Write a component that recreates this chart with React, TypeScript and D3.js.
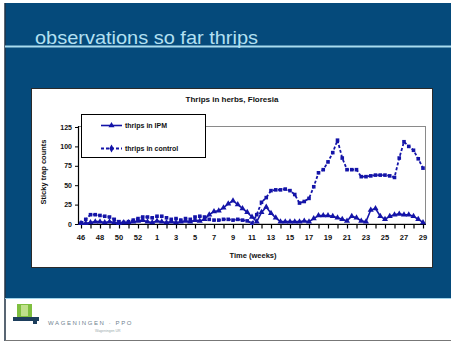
import React from "react";
import * as d3 from "d3";

const weeks = [46, 47, 48, 49, 50, 51, 52, 53, 1, 2, 3, 4, 5, 6, 7, 8, 9, 10, 11, 12, 13, 14, 15, 16, 17, 18, 19, 20, 21, 22, 23, 24, 25, 26, 27, 28, 29];
const yTicks = [0, 25, 50, 75, 100, 125];

// twice-weekly observations (73 samples over the 37 weeks)
const ipm = [1, 1, 2, 3, 3, 2, 3, 2, 1, 2, 2, 3, 4, 5, 3, 2, 4, 3, 2, 3, 2, 3, 4, 3, 5, 4, 6, 12, 16, 17, 21, 26, 30, 25, 20, 15, 9, 3, 15, 22, 14, 8, 3, 3, 3, 3, 3, 4, 3, 7, 11, 11, 11, 10, 8, 6, 4, 10, 8, 4, 3, 18, 20, 10, 6, 10, 12, 13, 12, 12, 10, 6, 2];
const control = [1, 6, 12, 12, 11, 10, 9, 6, 3, 2, 3, 5, 7, 9, 9, 8, 10, 10, 8, 6, 7, 5, 7, 6, 9, 10, 9, 6, 5, 5, 6, 6, 5, 6, 5, 4, 1, 12, 28, 34, 43, 44, 44, 45, 43, 38, 27, 29, 33, 48, 66, 70, 80, 92, 108, 85, 70, 70, 70, 61, 61, 62, 63, 63, 63, 62, 60, 85, 106, 100, 95, 84, 72];

const seriesNames = ["thrips in IPM", "thrips in control"];

const FONT = "'Liberation Sans', Arial, sans-serif";
const NAVY = "#1414a8";

export default function App() {
  const x = d3.scalePoint<number>().domain(d3.range(weeks.length)).range([81, 423]);
  const xs = d3.scaleLinear().domain([0, ipm.length - 1]).range([81, 423]);
  const y = d3.scaleLinear().domain([0, 125]).range([224, 127]);

  const line = d3
    .line<number>()
    .x((_, i) => xs(i))
    .y((d) => y(d));

  const tri = d3.symbol().type(d3.symbolTriangle).size(16)();
  const sq = d3.symbol().type(d3.symbolSquare).size(13)();
  const dia = d3.symbol().type(d3.symbolDiamond).size(18)();

  return (
    <svg
      width={451}
      height={342}
      style={{ position: "absolute", left: 0, top: 0, display: "block" }}
      fontFamily={FONT}
    >
      <rect x={0} y={0} width={451} height={342} fill="#ffffff" />
      {/* slide */}
      <rect x={5} y={3} width={446} height={295} fill="#054a7b" />
      <line x1={5} y1={3} x2={5} y2={341} stroke="#223344" strokeWidth={1.5} />
      <line x1={5} y1={340.5} x2={451} y2={340.5} stroke="#777" strokeWidth={1} />
      <line x1={5} y1={298.5} x2={451} y2={298.5} stroke="#9fd3ea" strokeWidth={1} />

      <text x={35} y={44} fontSize={19} fill="#b3e0f2" fontFamily={FONT} textLength={223} lengthAdjust="spacingAndGlyphs">
        observations so far thrips
      </text>
      <line x1={5} y1={46.5} x2={451} y2={46.5} stroke="#a9dcef" strokeWidth={2} />

      {/* chart box */}
      <rect x={31.5} y={88.5} width={401} height={179} fill="#ffffff" stroke="#2a2a2a" strokeWidth={1} />
      <text x={232} y={102} fontSize={8} fontWeight="bold" textAnchor="middle" fill="#111">
        Thrips in herbs, Floresia
      </text>

      {/* plot frame */}
      <rect x={78.5} y={126.5} width={347} height={97.5} fill="none" stroke="#8a8a8a" strokeWidth={1} />
      <line x1={78.5} y1={126} x2={78.5} y2={224.5} stroke="#000" strokeWidth={1.2} />
      <line x1={78} y1={224.5} x2={426} y2={224.5} stroke="#000" strokeWidth={1.2} />

      {yTicks.map((t) => (
        <g key={t}>
          <line x1={75} x2={78.5} y1={y(t) + 0.5} y2={y(t) + 0.5} stroke="#000" />
          <text x={72} y={y(t) + 2.5} fontSize={7} fontWeight="bold" textAnchor="end" fill="#111">
            {t}
          </text>
        </g>
      ))}
      {weeks.map((w, i) => (
        <g key={i}>
          <line x1={x(i)! + 0.5} x2={x(i)! + 0.5} y1={224.5} y2={228.5} stroke="#000" strokeWidth={1.2} />
          {i % 2 === 0 && (
            <text x={x(i)} y={240} fontSize={7.5} fontWeight="bold" textAnchor="middle" fill="#111">
              {w}
            </text>
          )}
        </g>
      ))}
      <text x={253} y={258} fontSize={7.5} fontWeight="bold" textAnchor="middle" fill="#111">
        Time (weeks)
      </text>
      <text
        transform="translate(46,172) rotate(-90)"
        fontSize={7.5}
        fontWeight="bold"
        textAnchor="middle"
        fill="#111"
      >
        Sticky trap counts
      </text>

      {/* series */}
      <path d={line(control) || ""} fill="none" stroke={NAVY} strokeWidth={1.8} strokeDasharray="3,2" />
      {control.map((v, i) => (
        <path key={"c" + i} d={sq || ""} transform={`translate(${xs(i)},${y(v)})`} fill={NAVY} />
      ))}
      <path d={line(ipm) || ""} fill="none" stroke={NAVY} strokeWidth={1.6} />
      {ipm.map((v, i) => (
        <path key={"p" + i} d={tri || ""} transform={`translate(${xs(i)},${y(v)})`} fill={NAVY} />
      ))}

      {/* legend */}
      <rect x={81.5} y={114.5} width={124} height={43} fill="#fff" stroke="#000" strokeWidth={1} />
      <line x1={101} x2={122} y1={125.5} y2={125.5} stroke={NAVY} strokeWidth={1.6} />
      <path d={tri || ""} transform="translate(111.5,125.5)" fill={NAVY} />
      <text x={125} y={128} fontSize={7} fontWeight="bold" fill="#111">
        {seriesNames[0]}
      </text>
      <line x1={101} x2={122} y1={148.5} y2={148.5} stroke={NAVY} strokeWidth={1.8} strokeDasharray="3,2" />
      <path d={dia || ""} transform="translate(111.5,148.5)" fill={NAVY} />
      <text x={125} y={151} fontSize={7} fontWeight="bold" fill="#111">
        {seriesNames[1]}
      </text>

      {/* footer logo */}
      <rect x={17} y={304} width={15} height={13} fill="#7fbf3f" />
      <rect x={21} y={305} width={7} height={11} fill="#bfe08a" />
      <rect x={13} y={317} width={26} height={4} fill="#1d3e5c" />
      <rect x={33} y={317} width={4} height={7} fill="#1d3e5c" />
      <text x={48} y={325} fontSize={6} fill="#6f7f8f" letterSpacing={1.6}>
        WAGENINGEN · PPO
      </text>
      <text x={95} y={332} fontSize={3.5} fill="#9aa">
        Wageningen UR
      </text>
    </svg>
  );
}
